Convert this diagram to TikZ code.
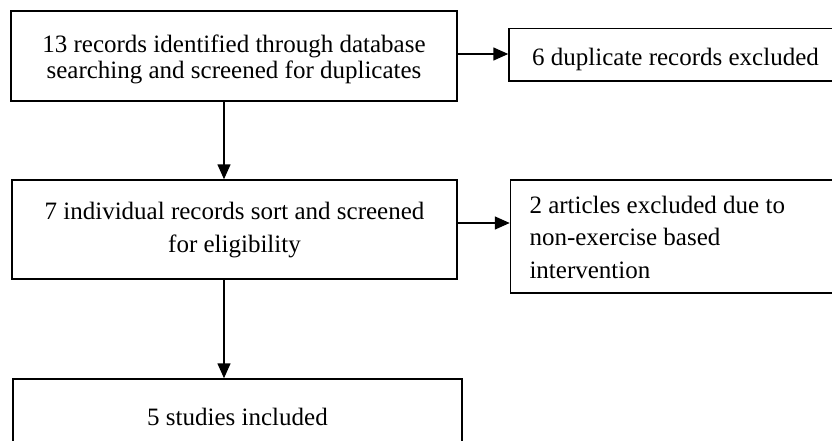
\documentclass[tikz,border=0pt]{standalone}
\usepackage{fontspec}
\setmainfont{Liberation Serif}
\usetikzlibrary{arrows.meta}
\begin{document}
\begin{tikzpicture}[x=1pt,y=-1pt,
  box/.style={draw=black,line width=1.5pt,inner sep=0pt,fill=white},
  f1/.style={font=\fontsize{25}{26.2}\selectfont},
  f2/.style={font=\fontsize{25}{32.5}\selectfont},
  arr/.style={line width=1.6pt,-{Triangle[length=15pt,width=13pt]}}]
\clip (0,0) rectangle (832,441);
\useasboundingbox (0,0) rectangle (832,441);
\node[box,f1,align=center,minimum width=446pt,minimum height=90pt,text height=45pt,text depth=0pt] (b1) at (234,56)
  {13 records identified through database\\searching and screened for duplicates};
\node[box,f1,minimum width=336pt,minimum height=52.5pt,text height=21.4pt,text depth=0pt] (b2) at (677,54.75)
  {\hspace*{-3pt}6 duplicate records excluded};
\node[box,f2,align=flush left,text width=297pt,inner xsep=19pt,minimum height=113pt,text height=17pt,text depth=64pt] (b4) at (678,236.5)
  {2 articles excluded due to\\non-exercise based\\intervention};
\node[box,f2,align=center,minimum width=445pt,minimum height=99pt,text height=45pt,text depth=0pt] (b3) at (234.5,229.5)
  {7 individual records sort and screened\\for eligibility};
\node[box,f1,minimum width=449pt,minimum height=92pt,text height=10pt,text depth=10pt] (b5) at (237.5,425)
  {5 studies included};
\draw[arr] (b1.east |- 0,54) -- (b2.west |- 0,54);
\draw[arr] (b1.south -| 224,0) -- (b3.north -| 224,0);
\draw[arr] (b3.east |- 0,223) -- (b4.west |- 0,223);
\draw[arr] (b3.south -| 224,0) -- (b5.north -| 224,0);
\end{tikzpicture}
\end{document}
